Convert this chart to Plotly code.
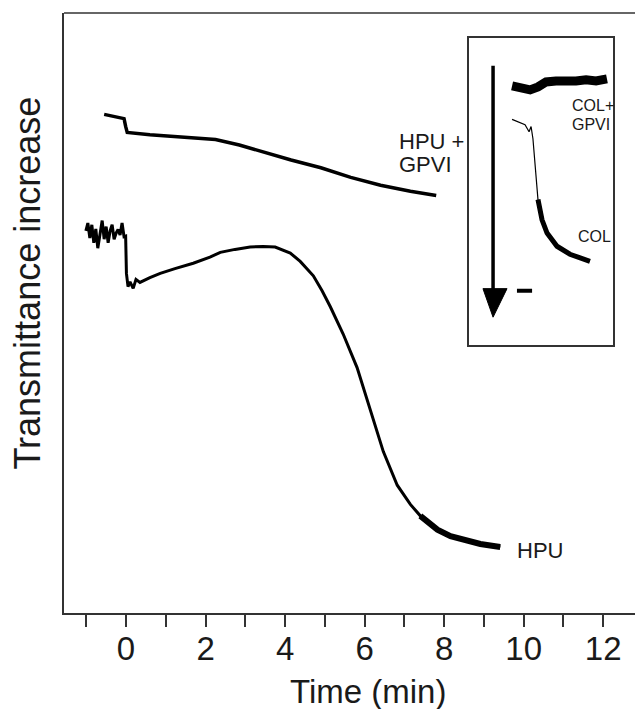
import plotly.graph_objects as go

# main traces: time in min, transmittance increase in arbitrary units (0 top, 100 bottom)
gpvi_t = [-0.55, -0.35, -0.15, -0.05, -0.01, 0.03, 0.6, 1.35, 1.85, 2.25, 2.85, 3.35,
          4.15, 4.9, 5.65, 6.4, 7.15, 7.8]
gpvi_v = [16.9, 17.2, 17.4, 17.6, 18.9, 19.9, 20.3, 20.6, 20.8, 21.1, 22.0, 23.0,
          24.5, 25.8, 27.4, 28.7, 29.7, 30.4]

hpu_t = [-1.01, -0.96, -0.91, -0.86, -0.81, -0.76, -0.71, -0.65, -0.6, -0.55, -0.5,
         -0.45, -0.4, -0.35, -0.3, -0.25, -0.2, -0.15, -0.1, -0.05, -0.01, 0.01, 0.05,
         0.1, 0.18, 0.25, 0.35, 0.6, 0.86, 1.23, 1.69, 2.11, 2.37, 2.74, 3.12, 3.45,
         3.75, 4.13, 4.38, 4.71, 4.93, 5.14, 5.46, 5.81, 6.14, 6.47, 6.82, 7.15, 7.4,
         7.83, 8.16, 8.48, 8.91, 9.41]
hpu_v = [36.3, 35.0, 37.5, 35.3, 38.3, 36.0, 39.2, 37.0, 34.6, 37.7, 35.6, 38.3, 36.3,
         35.3, 37.7, 36.7, 36.1, 37.0, 35.0, 37.3, 37.2, 43.4, 45.6, 44.8, 45.9, 44.4,
         44.9, 44.1, 43.4, 42.6, 41.7, 40.7, 39.9, 39.4, 39.0, 38.9, 39.0, 40.0, 41.4,
         43.8, 46.3, 49.0, 53.5, 59.1, 66.2, 73.1, 78.7, 81.9, 83.8, 86.1, 87.2, 87.8,
         88.5, 89.0]

# inset traces (arbitrary units)
colgp_t = [2.99, 3.54, 4.24, 4.79, 5.35, 6.04, 6.74, 7.43, 8.13, 8.82, 9.58]
colgp_v = [15.5, 15.8, 16.8, 15.8, 14.2, 13.9, 14.2, 13.9, 13.5, 13.9, 13.2]

col_t = [2.99, 3.4, 3.89, 4.17, 4.31, 4.44, 4.65, 4.79, 5.07, 5.42, 6.11, 7.01, 7.71, 8.4]
col_v = [26.4, 27.1, 28.1, 30.4, 28.7, 32.7, 43.6, 52.5, 59.1, 63.4, 67.7, 70.3, 71.6, 72.6]

FONT = "Liberation Sans, Arial, sans-serif"
AX = "#333333"

fig = go.Figure()
fig.add_scatter(x=gpvi_t, y=gpvi_v, mode="lines", line=dict(color="black", width=3.5))
fig.add_scatter(x=hpu_t, y=hpu_v, mode="lines", line=dict(color="black", width=3))
tail = [i for i, t in enumerate(hpu_t) if t >= 7.3]
fig.add_scatter(x=[hpu_t[i] for i in tail], y=[hpu_v[i] for i in tail], mode="lines",
                line=dict(color="black", width=6))

fig.add_scatter(x=colgp_t, y=colgp_v, mode="lines", line=dict(color="black", width=9),
                xaxis="x2", yaxis="y2")
fig.add_scatter(x=col_t, y=col_v, mode="lines", line=dict(color="black", width=1.2),
                xaxis="x2", yaxis="y2")
ctail = [i for i, t in enumerate(col_t) if t >= 4.79]
fig.add_scatter(x=[col_t[i] for i in ctail], y=[col_v[i] for i in ctail], mode="lines",
                line=dict(color="black", width=5), xaxis="x2", yaxis="y2")

# page body adds an 8px margin, so the figure is shrunk by that much
fig.update_layout(
    width=635, height=701,
    margin=dict(l=56, r=0, t=5, b=96),
    plot_bgcolor="white", paper_bgcolor="white",
    showlegend=False,
    font=dict(family=FONT, color="#1a1a1a"),
    xaxis=dict(
        range=[-1.56, 13.0], showgrid=False, zeroline=False,
        showline=True, linecolor=AX, linewidth=1.5,
        tickmode="linear", tick0=0, dtick=2,
        ticks="outside", ticklen=12, tickwidth=1.5, tickcolor=AX,
        tickfont=dict(size=33), ticklabelstandoff=-6,
        minor=dict(tick0=0, dtick=1, ticks="outside", ticklen=12, tickwidth=1.5, tickcolor=AX),
    ),
    yaxis=dict(
        range=[100, 0], showgrid=False, zeroline=False, showticklabels=False,
        showline=True, linecolor=AX, linewidth=1.5, ticks="",
    ),
    xaxis2=dict(
        domain=[0.6995, 0.9482], anchor="y2", range=[0, 10],
        showgrid=False, zeroline=False, showticklabels=False, ticks="",
        showline=True, mirror=True, linecolor=AX, linewidth=1.5,
    ),
    yaxis2=dict(
        domain=[0.4459, 0.9578], anchor="x2", range=[100, 0],
        showgrid=False, zeroline=False, showticklabels=False, ticks="",
        showline=True, mirror=True, linecolor=AX, linewidth=1.5,
    ),
    shapes=[
        dict(type="line", xref="paper", yref="paper", x0=0, x1=1, y0=1, y1=1,
             line=dict(color=AX, width=1.5)),
        dict(type="line", xref="x2", yref="y2", x0=1.67, x1=1.67, y0=8.9, y1=83,
             line=dict(color="black", width=3.5)),
        dict(type="path", xref="x2", yref="y2",
             path="M 0.97,81.5 L 2.64,81.5 L 1.67,90.8 Z",
             fillcolor="black", line=dict(color="black", width=1)),
        dict(type="line", xref="x2", yref="y2", x0=3.33, x1=4.38, y0=82.2, y1=82.2,
             line=dict(color="black", width=4)),
    ],
    annotations=[
        dict(text="Transmittance increase", xref="paper", yref="paper", x=-0.0622, y=0.5507,
             textangle=-90, showarrow=False, font=dict(size=36),
             xanchor="center", yanchor="middle"),
        dict(text="Time (min)", xref="paper", yref="paper", x=0.525, y=-0.131,
             showarrow=False, font=dict(size=33), xanchor="center", yanchor="middle"),
        dict(text="HPU +", x=6.82, y=21.45, xanchor="left", yanchor="middle",
             showarrow=False, font=dict(size=22)),
        dict(text="GPVI", x=6.82, y=25.3, xanchor="left", yanchor="middle",
             showarrow=False, font=dict(size=22)),
        dict(text="HPU", x=9.79, y=89.5, xanchor="left", yanchor="middle",
             showarrow=False, font=dict(size=22)),
        dict(text="COL+", xref="x2", yref="y2", x=7.01, y=22.0, xanchor="left",
             yanchor="middle", showarrow=False, font=dict(size=16)),
        dict(text="GPVI", xref="x2", yref="y2", x=7.01, y=28.0, xanchor="left",
             yanchor="middle", showarrow=False, font=dict(size=16)),
        dict(text="COL", xref="x2", yref="y2", x=7.43, y=64.4, xanchor="left",
             yanchor="middle", showarrow=False, font=dict(size=16)),
    ],
)

fig.write_html("out.html")
